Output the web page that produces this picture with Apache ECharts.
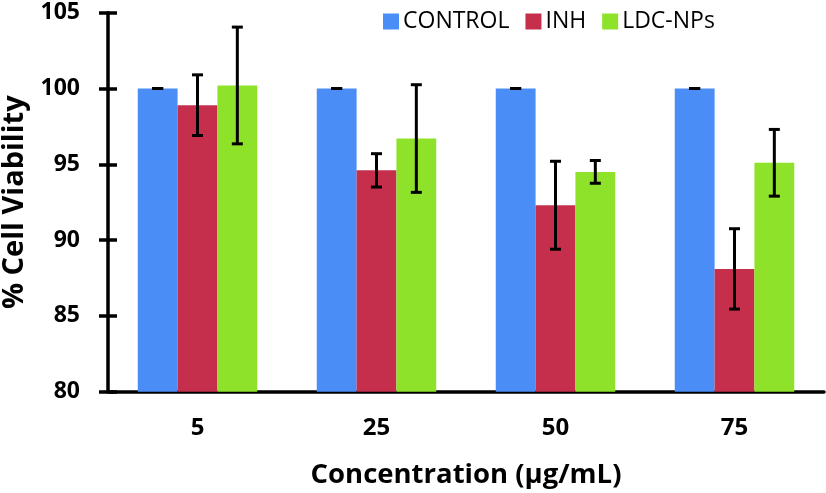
<!DOCTYPE html>
<html>
<head>
<meta charset="utf-8">
<script src="https://cdn.jsdelivr.net/npm/echarts@6/dist/echarts.min.js"></script>
<style>html,body{margin:0;padding:0;background:#fff}#c{width:826px;height:493px}</style>
</head>
<body>
<div id="c"></div>
<script>
var categories = ['5', '25', '50', '75'];
var seriesNames = ['CONTROL', 'INH', 'LDC-NPs'];
var controlValues = [100, 100, 100, 100];
var controlErrors = [0, 0, 0, 0];
var inhValues = [98.9, 94.6, 92.3, 88.1];
var inhErrors = [2.0, 1.1, 2.9, 2.65];
var ldcValues = [100.2, 96.7, 94.5, 95.1];
var ldcErrors = [3.85, 3.55, 0.75, 2.2];
var yTicks = [80, 85, 90, 95, 100, 105];

var colors = ['#4A8DF6', '#C52F4C', '#8EE32A'];
var allValues = [controlValues, inhValues, ldcValues];
var allErrors = [controlErrors, inhErrors, ldcErrors];
var barFrac = 0.2225;

var errData = [];
for (var s = 0; s < 3; s++) {
  for (var i = 0; i < categories.length; i++) {
    errData.push([i, s, allValues[s][i] - allErrors[s][i], allValues[s][i] + allErrors[s][i]]);
  }
}

var font = 'Open Sans';
var chart = echarts.init(document.getElementById('c'), null, {renderer: 'canvas'});
var series = [];
for (var k = 0; k < 3; k++) {
  series.push({
    name: seriesNames[k], type: 'bar', data: allValues[k],
    barWidth: (barFrac * 100) + '%', barGap: '0%',
    itemStyle: {color: colors[k]}, silent: true
  });
}
series.push({
  type: 'custom', silent: true, z: 10,
  data: errData,
  encode: {x: 0, y: [2, 3]},
  renderItem: function (params, api) {
    var ci = api.value(0), si = api.value(1);
    var band = api.size([1, 0])[0];
    var off = (si - 1) * band * barFrac;
    var lo = api.coord([ci, api.value(2)]);
    var hi = api.coord([ci, api.value(3)]);
    var x = lo[0] + off;
    var cap = 5.5;
    var st = {stroke: '#000', lineWidth: 3};
    return {type: 'group', children: [
      {type: 'line', shape: {x1: x, y1: lo[1], x2: x, y2: hi[1]}, style: st},
      {type: 'line', shape: {x1: x - cap, y1: lo[1], x2: x + cap, y2: lo[1]}, style: st},
      {type: 'line', shape: {x1: x - cap, y1: hi[1], x2: x + cap, y2: hi[1]}, style: st}
    ]};
  }
});

chart.setOption({
  animation: false,
  color: colors,
  textStyle: {fontFamily: font},
  legend: {
    data: seriesNames, left: 383, top: 10, padding: 0, itemWidth: 16, itemHeight: 16, itemGap: 16,
    icon: 'rect',
    textStyle: {fontSize: 23, color: '#000', fontFamily: font, padding: [0, 0, 0, -1]}
  },
  grid: {left: 108, right: 2, top: 12.7, bottom: 101.3, containLabel: false, outerBoundsMode: 'none'},
  xAxis: {
    type: 'category', data: categories,
    axisLine: {lineStyle: {color: '#000', width: 3.5}},
    axisTick: {show: false},
    axisLabel: {fontSize: 24, fontWeight: 'bold', color: '#000', margin: 24, fontFamily: font},
    name: 'Concentration (\u03BCg/mL)', nameLocation: 'middle', nameGap: 69,
    nameTextStyle: {fontSize: 27.5, fontWeight: 'bold', color: '#000', fontFamily: font}
  },
  yAxis: [{
    type: 'value', min: 80, max: 105, interval: 5,
    axisLine: {show: true, lineStyle: {color: '#000', width: 3.5}},
    axisTick: {show: true, length: 9, lineStyle: {color: '#000', width: 3.5}},
    splitLine: {show: false},
    axisLabel: {fontSize: 23, fontWeight: 'bold', color: '#000', margin: 28, fontFamily: font},
    name: '% Cell Viability', nameLocation: 'middle', nameGap: 78,
    nameTextStyle: {fontSize: 29, fontWeight: 'bold', color: '#000', fontFamily: font}
  }, {
    type: 'value', min: 80, max: 105, interval: 5, position: 'left',
    axisLine: {show: false},
    axisTick: {show: true, inside: true, length: 9, lineStyle: {color: '#000', width: 3.5}},
    splitLine: {show: false},
    axisLabel: {show: false}
  }],
  series: series
});
</script>
</body>
</html>
